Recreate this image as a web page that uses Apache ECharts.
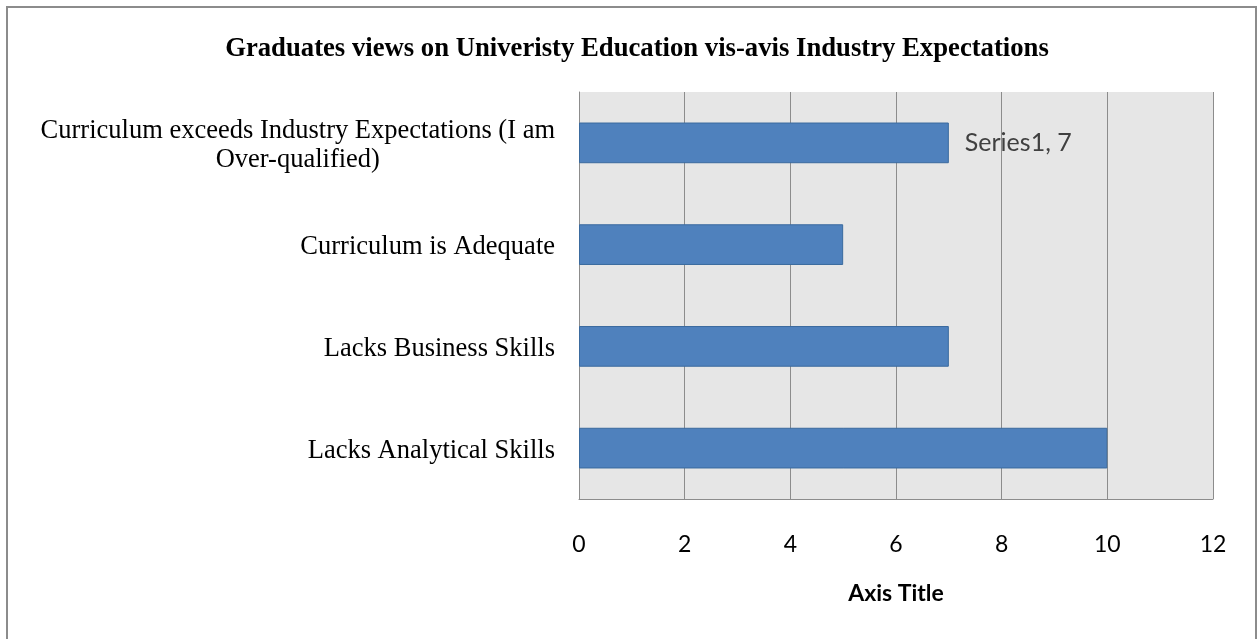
<!DOCTYPE html>
<html>
<head>
<meta charset="utf-8">
<title>Graduates views on Univeristy Education vis-avis Industry Expectations</title>
<script src="https://cdn.jsdelivr.net/npm/echarts@6/dist/echarts.min.js"></script>
<style>
  html, body { margin: 0; padding: 0; background: #ffffff; }
  #chart { width: 1258px; height: 639px; }
</style>
</head>
<body>
<div id="chart"></div>
<script>
// Survey categories, top to bottom
const categories = [
  'Curriculum exceeds Industry Expectations (I am\nOver-qualified)',
  'Curriculum is Adequate',
  'Lacks Business Skills',
  'Lacks Analytical Skills'
];
// Number of graduates per view
const seriesValues = [7, 5, 7, 10];
const seriesName = 'Series1';
// Only the first bar carries a value label
const labelledIndex = 0;

const chart = echarts.init(document.getElementById('chart'));

const serif = '"Liberation Serif", "Times New Roman", serif';
const sans = 'Lato, "Liberation Sans", sans-serif';

chart.setOption({
  animation: false,
  backgroundColor: '#ffffff',
  title: {
    text: 'Graduates views on Univeristy Education vis-avis Industry Expectations',
    left: 632,
    top: 31,
    textAlign: 'center',
    textStyle: { fontFamily: serif, fontWeight: 'bold', fontSize: 26.7, color: '#000000' }
  },
  graphic: [{
    type: 'rect',
    shape: { x: 7, y: 7, width: 1249, height: 660 },
    style: { fill: null, stroke: '#8c8c8c', lineWidth: 2 },
    silent: true,
    z: -1
  }],
  grid: {
    left: 579,
    right: 45,
    top: 92,
    bottom: 140,
    show: true,
    backgroundColor: '#e6e6e6',
    borderWidth: 0
  },
  xAxis: {
    type: 'value',
    min: 0,
    max: 12,
    interval: 2,
    name: 'Axis Title',
    nameLocation: 'middle',
    nameGap: 83,
    nameTextStyle: { fontFamily: sans, fontWeight: 'bold', fontSize: 23, color: '#000000' },
    axisLine: { show: true, lineStyle: { color: '#8c8c8c', width: 1 } },
    axisTick: { show: false },
    axisLabel: { margin: 34, fontFamily: sans, fontSize: 23, color: '#000000' },
    splitLine: { show: true, lineStyle: { color: '#8c8c8c', width: 1 } }
  },
  yAxis: {
    type: 'category',
    data: categories,
    inverse: true,
    axisLine: { show: true, lineStyle: { color: '#8c8c8c', width: 1 } },
    axisTick: { show: false },
    axisLabel: {
      margin: 24,
      padding: [5, 0, 0, 0],
      fontFamily: serif,
      fontSize: 26.5,
      color: '#000000',
      lineHeight: 29,
      formatter: function (value) {
        const lines = value.split('\n');
        if (lines.length === 1) return value;
        return '{a|' + lines[0] + '}\n{b|' + lines[1] + '}';
      },
      rich: {
        a: { fontFamily: serif, fontSize: 26.5, color: '#000000', lineHeight: 29 },
        b: { fontFamily: serif, fontSize: 26.5, color: '#000000', lineHeight: 29, align: 'center' }
      }
    }
  },
  series: [{
    name: seriesName,
    type: 'bar',
    barWidth: '40%',
    data: seriesValues.map(function (v, i) {
      return {
        value: v,
        label: { show: i === labelledIndex }
      };
    }),
    itemStyle: { color: '#4f81bd', borderColor: '#3a6a9e', borderWidth: 1 },
    label: {
      position: 'right',
      distance: 16,
      formatter: '{a}, {c}',
      fontFamily: sans,
      fontSize: 25,
      color: '#404040'
    }
  }]
});
</script>
</body>
</html>
